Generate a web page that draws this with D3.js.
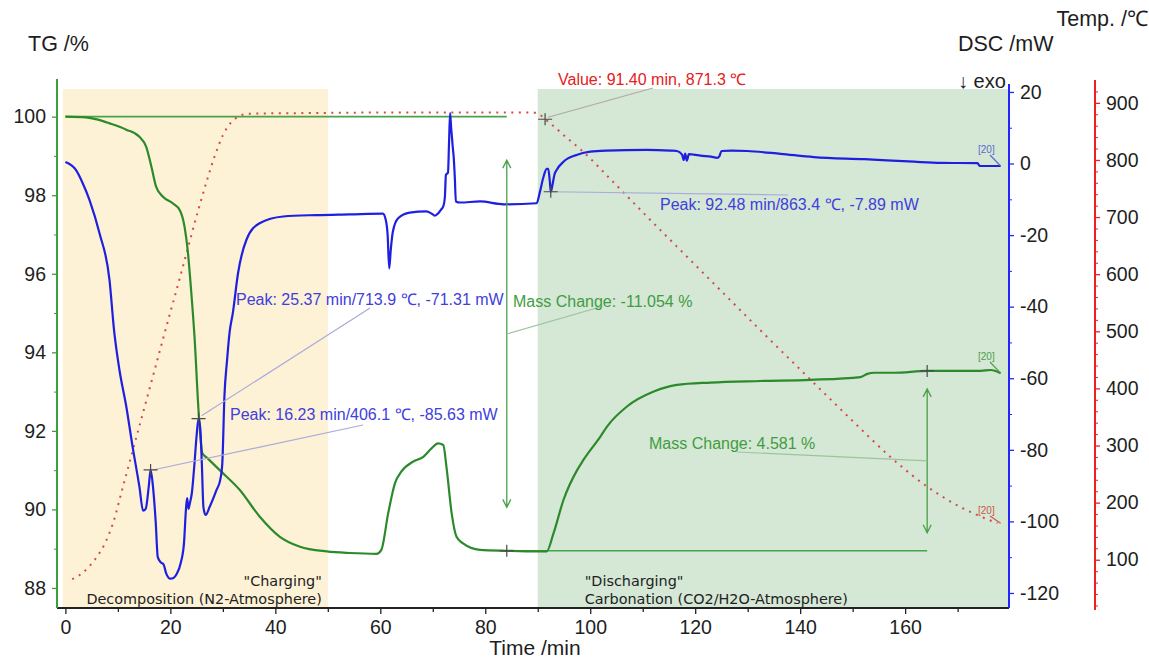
<!DOCTYPE html>
<html>
<head>
<meta charset="utf-8">
<script src="https://cdn.jsdelivr.net/npm/d3@7"></script>
<style>
  body { margin: 0; background: #fff; }
  svg { display: block; }
</style>
</head>
<body>
<svg id="chart" width="1149" height="661"></svg>
<script>
// ---- Thermogravimetric data (time in min) ----
const tgTime = [0, 3.9, 6, 8.4, 11.6, 14.1, 15.4, 16.4, 17.3, 18.6, 20.5, 21.8, 22.7, 23.3, 24.0, 24.6, 25.4, 26.1, 27.1, 29.4,
  33.2, 37.0, 40.8, 44.7, 49.8, 54.2, 59.3, 60.2, 61.5, 62.8, 64.0, 66.3, 68.2, 69.8, 71.0, 72.0, 72.6, 73.6, 74.5, 75.7,
  79.0, 84.1, 89.8, 91.7, 93.0, 94.9, 97.5, 98.7, 101.9, 103.2, 107.0, 112.1, 116.5, 122.9, 132.4, 142, 151.5, 152.8,
  154.1, 157.9, 164.2, 174.4, 176.3, 178.2];
const tgValue = [100.0, 99.98, 99.93, 99.83, 99.67, 99.49, 99.23, 98.72, 98.21, 97.96, 97.79, 97.62, 97.2, 96.6, 95.5, 94.4, 92.45, 91.43, 91.30, 91.0,
  90.5, 89.82, 89.31, 89.05, 88.93, 88.89, 88.87, 88.97, 89.9, 90.67, 90.96, 91.22, 91.34, 91.56, 91.68, 91.64, 91.09, 89.9, 89.31, 89.14,
  88.97, 88.946, 88.93, 88.93, 89.39, 90.24, 91.0, 91.26, 91.85, 92.11, 92.62, 93.0, 93.17, 93.23, 93.27, 93.30, 93.37, 93.45,
  93.48, 93.48, 93.527, 93.53, 93.55, 93.47];

// ---- DSC signal (mW) ----
const dscTime = [0, 2.0, 3.3, 4.6, 6.5, 8.4, 9.3, 10.3, 11.6, 12.8, 14.1, 14.8, 15.3, 15.9, 16.23, 16.7, 17.2, 17.6, 18.2, 18.7,
  19.2, 20.0, 20.6, 21.2, 22.0, 22.6, 23.0, 23.2, 23.45, 23.7, 24.1, 24.6, 25.0, 25.37, 25.7, 26.0, 26.3, 26.7, 27.5, 28.8,
  29.5, 29.9, 30.3, 30.8, 31.3, 31.9, 32.9, 34.5, 37.0, 41.5, 47.8, 54.2, 60.5, 61.0, 61.4, 61.7, 62.0, 62.4, 63.4, 65.6,
  68.8, 70.0, 70.4, 71.0, 71.5, 72.0, 72.3, 72.5, 72.9, 73.1, 73.3, 73.5, 73.8, 74.0, 74.2, 74.4, 75.2, 79.0, 83.5, 89.8,
  90.4, 91.1, 91.7, 92.0, 92.3, 92.48, 92.8, 93.2, 93.6, 94.9, 97.4, 100, 103, 110.8, 115.3, 116.5, 117.5, 117.8, 118.1, 118.4,
  118.8, 119.7, 121, 123, 124.2, 124.6, 125.0, 127, 129.9, 136.3, 142.6, 152.2, 161.7, 166.8, 173.8, 174.2, 178.2];
const dscValue = [0.4, -1.8, -5.5, -10.2, -19.5, -32.5, -47, -57.7, -67.9, -79.1, -90.3, -97, -96.5, -90, -85.63, -90.5, -100, -110, -111.5, -112,
  -114.5, -116, -115.8, -114.7, -111.5, -106, -96, -93.5, -96.5, -95, -92, -83.7, -76, -71.31, -74, -84, -96, -98.2, -95.9, -91.2,
  -88.4, -83.7, -65.1, -55, -47, -41.8, -30.6, -21.3, -16.7, -14.8, -14.4, -14.2, -14.0, -15.5, -20, -29.3, -24, -19, -15.3, -13.7,
  -13.4, -14.2, -14.6, -14, -13.0, -12.0, -9.5, -3.2, -2.5, 6, 14.1, 10, 4.7, 1.5, -4, -10.6, -10.9, -10.6, -11.4, -11.1,
  -8, -3.7, -1.5, -1.5, -5, -7.89, -6, -3, -1.8, 0.5, 2.4, 3.3, 3.6, 3.8, 3.6, 3.5, 2.5, 1.0, 2.8, 0.8,
  2.6, 2.5, 2.2, 1.9, 1.6, 2.0, 3.5, 3.6, 3.5, 2.7, 1.8, 1.2, 0.5, 0.2, 0.1, -0.7, -0.7];

// ---- Furnace temperature (°C) ----
const tempTime = [1.3, 3, 4.5, 6, 7.5, 9, 11, 13, 16.23, 19, 22, 25.37, 27, 28.5, 30, 31.5, 33, 35,
  45, 60, 80, 89, 90.3, 91.4, 92.48, 95, 98.7, 104, 110.8, 121, 132.4, 142, 150, 157.8, 164.2, 169, 173.8, 177.6];
const tempValue = [66, 75, 88, 105, 128, 162, 229, 297, 406.1, 500, 600, 713.9, 765, 808, 843, 865, 876, 881,
  882, 883, 883, 883, 880, 871.3, 863.4, 843, 814, 765, 701, 607, 502, 415, 343, 275, 228, 200, 178, 164];

// ---- Axis ticks ----
const timeTicks = [0, 20, 40, 60, 80, 100, 120, 140, 160];
const tgTicks = [88, 90, 92, 94, 96, 98, 100];
const dscTicks = [-120, -100, -80, -60, -40, -20, 0, 20];
const tempTicks = [100, 200, 300, 400, 500, 600, 700, 800, 900];

// ---- Atmosphere phases ----
const phaseStart = [-0.5, 90];
const phaseEnd = [50, 179.6];
const phaseTitle = ['"Charging"', '"Discharging"'];
const phaseName = ["Decomposition (N2-Atmosphere)", "Carbonation (CO2/H2O-Atmosphere)"];

// ---- Evaluated points ----
const peakTime = [16.23, 25.37, 92.48];
const peakDsc = [-85.63, -71.31, -7.89];
const peakTemp = [406.1, 713.9, 863.4];
const valueTime = 91.40, valueTemp = 871.3;
const massStepTime = [84.1, 164.2];
const massLevels = [100, 88.946, 93.527];

// ---------------------------------------------------------------
const svg = d3.select("#chart");
const FONT = "'Liberation Sans', Arial, Helvetica, sans-serif";
const plain = d => String(d);   // hyphen-minus, as on the instrument printout

const x = d3.scaleLinear().domain([-1.6, 179.6]).range([57, 1008]);
const yTG = d3.scaleLinear().domain([87.49, 100.73]).range([608, 88]);
const yDSC = d3.scaleLinear().domain([-124.2, 21.1]).range([608, 88]);
const yT = d3.scaleLinear().domain([12, 940]).range([610, 80]);

const C = {
  tg: "#2b8a2b", tgAxis: "#3aa03a",
  dsc: "#1f1fe0", dscAxis: "#2424ff",
  temp: "#d84848", tempAxis: "#ee2020",
  annBlue: "#4040dc", annRed: "#e52020", annGreen: "#3f9d3f",
  leadBlue: "#aaaadc", leadGrey: "#b0a8a8", leadGreen: "#9cc49c",
  cross: "#4a4a4a", text: "#1e1e1e"
};

// phase backgrounds
const phaseFill = ["#fdf1d6", "#d5e7d5"];
phaseStart.forEach((s, i) => {
  svg.append("rect")
    .attr("x", x(s)).attr("y", 89)
    .attr("width", x(phaseEnd[i]) - x(s)).attr("height", 608 - 89)
    .attr("fill", phaseFill[i]);
});
phaseStart.forEach((s, i) => {
  const g = svg.append("g").attr("font-family", "'DejaVu Sans', sans-serif")
    .attr("font-size", 14.4).attr("fill", "#222");
  if (i === 0) {
    g.append("text").attr("x", x(phaseEnd[i]) - 6).attr("y", 586).attr("text-anchor", "end").text(phaseTitle[i]);
    g.append("text").attr("x", x(phaseEnd[i]) - 6).attr("y", 604).attr("text-anchor", "end").text(phaseName[i]);
  } else {
    g.append("text").attr("x", x(s) + 47).attr("y", 586).text(phaseTitle[i]);
    g.append("text").attr("x", x(s) + 47).attr("y", 604).text(phaseName[i]);
  }
});

// mass-change reference levels
svg.append("line")
  .attr("x1", x(0)).attr("x2", x(massStepTime[0]))
  .attr("y1", yTG(massLevels[0])).attr("y2", yTG(massLevels[0]))
  .attr("stroke", "#49a449").attr("stroke-width", 1.6);
svg.append("line")
  .attr("x1", x(massStepTime[0])).attr("x2", x(massStepTime[1]))
  .attr("y1", yTG(massLevels[1])).attr("y2", yTG(massLevels[1]))
  .attr("stroke", "#49a449").attr("stroke-width", 1.4);

// curves
const tempLine = d3.line().x(d => x(d[0])).y(d => yT(d[1])).curve(d3.curveMonotoneX);
const tgLine = d3.line().x(d => x(d[0])).y(d => yTG(d[1])).curve(d3.curveMonotoneX);
const dscLine = d3.line().x(d => x(d[0])).y(d => yDSC(d[1])).curve(d3.curveMonotoneX);

svg.append("path").datum(d3.zip(tempTime, tempValue))
  .attr("d", tempLine).attr("fill", "none")
  .attr("stroke", C.temp).attr("stroke-width", 2).attr("stroke-dasharray", "2,5.5");
svg.append("path").datum(d3.zip(tgTime, tgValue))
  .attr("d", tgLine).attr("fill", "none")
  .attr("stroke", C.tg).attr("stroke-width", 2.2);
svg.append("path").datum(d3.zip(dscTime, dscValue))
  .attr("d", dscLine).attr("fill", "none")
  .attr("stroke", C.dsc).attr("stroke-width", 2.2).attr("stroke-linejoin", "round");

// helpers
function cross(cx, cy) {
  svg.append("path")
    .attr("d", `M${cx - 7},${cy}H${cx + 7}M${cx},${cy - 6}V${cy + 6}`)
    .attr("stroke", C.cross).attr("stroke-width", 1.2);
}
function leader(x1, y1, x2, y2, col) {
  svg.append("line").attr("x1", x1).attr("y1", y1).attr("x2", x2).attr("y2", y2)
    .attr("stroke", col).attr("stroke-width", 1.2);
}
function label(tx, ty, str, col, size) {
  svg.append("text").attr("x", tx).attr("y", ty)
    .attr("font-family", FONT).attr("font-size", size || 16)
    .attr("fill", col).text(str);
}
function vArrow(xp, yTop, yBot, col) {
  const s = 8, w = 4;
  svg.append("path")
    .attr("d", `M${xp},${yTop}V${yBot}M${xp - w},${yTop + s}L${xp},${yTop}L${xp + w},${yTop + s}` +
               `M${xp - w},${yBot - s}L${xp},${yBot}L${xp + w},${yBot - s}`)
    .attr("fill", "none").attr("stroke", col).attr("stroke-width", 1.3);
}

// peak annotations
const peakText = peakTime.map((t, i) =>
  `Peak: ${t.toFixed(2)} min/${peakTemp[i].toFixed(1)} \u2103, ${peakDsc[i].toFixed(2)} mW`);
const pPts = peakTime.map((t, i) => [x(t), yDSC(peakDsc[i])]);
leader(pPts[0][0] + 2, pPts[0][1], 363, 425, C.leadBlue);
leader(pPts[1][0] + 3, pPts[1][1] - 3, 370, 308, C.leadBlue);
leader(pPts[2][0], pPts[2][1], 788, 195, C.leadBlue);
label(230, 420, peakText[0], C.annBlue);
label(236, 305, peakText[1], C.annBlue);
label(660, 210, peakText[2], C.annBlue);
pPts.forEach(p => cross(p[0], p[1]));

// temperature read-out
const vx = x(valueTime), vy = yT(valueTemp);
leader(vx + 3, vy - 2, 653, 88, C.leadGrey);
label(558, 85, `Value: ${valueTime.toFixed(2)} min, ${valueTemp.toFixed(1)} \u2103`, C.annRed);
cross(vx, vy);

// mass-change steps
const loss = massLevels[1] - massLevels[0];
const gain = massLevels[2] - massLevels[1];
[[massStepTime[0], massLevels[0], massLevels[1]], [massStepTime[1], massLevels[2], massLevels[1]]].forEach(m => {
  const xp = x(m[0]);
  const span = m[1] - m[2];
  vArrow(xp, yTG(m[1] - span * 0.1), yTG(m[2] + span * 0.1), "#4aa04a");
});
leader(x(massStepTime[0]) + 1, yTG((massLevels[0] + massLevels[1]) / 2), 600, 307, C.leadGreen);
leader(x(massStepTime[1]), yTG((massLevels[2] + massLevels[1]) / 2), 737, 452, C.leadGreen);
label(513, 307, `Mass Change: ${loss.toFixed(3)} %`, C.annGreen);
label(649, 449, `Mass Change: ${gain.toFixed(3)} %`, C.annGreen);
cross(x(massStepTime[0]), yTG(massLevels[1]));
cross(x(massStepTime[1]), yTG(massLevels[2]));

// segment end tags
const tEnd = 178.2;
function endTag(vy, ty, col) {
  svg.append("text").attr("x", 978).attr("y", ty)
    .attr("font-family", FONT).attr("font-size", 10).attr("fill", col).text("[20]");
  leader(990, ty + 2, x(tEnd), vy, col);
}
endTag(yDSC(dscValue[dscValue.length - 1]), 153, "#5a6ad0");
endTag(yTG(tgValue[tgValue.length - 1]), 360, "#4aa04a");
endTag(yT(tempValue[tempValue.length - 1]), 514, "#cc5a4a");

// ---- axes ----
function styleAxis(g, col, labelCol) {
  g.select(".domain").remove();
  g.selectAll(".tick line").attr("stroke", col).attr("stroke-width", 1.3);
  g.selectAll(".tick text").attr("fill", labelCol).attr("font-family", FONT).attr("font-size", 19.5);
}

// time axis
const gx = svg.append("g").attr("transform", "translate(0,608)")
  .call(d3.axisBottom(x).tickValues(timeTicks).tickSize(6).tickPadding(6).tickFormat(plain));
styleAxis(gx, "#222", C.text);
svg.append("g").attr("transform", "translate(0,608)")
  .call(d3.axisBottom(x).tickValues(d3.range(10, 180, 20)).tickSize(4).tickFormat(""))
  .call(g => { g.select(".domain").remove(); g.selectAll("line").attr("stroke", "#222").attr("stroke-width", 1.3); });
svg.append("line").attr("x1", 57).attr("x2", 1009).attr("y1", 608).attr("y2", 608)
  .attr("stroke", "#222").attr("stroke-width", 2);
svg.append("text").attr("x", 535).attr("y", 655).attr("text-anchor", "middle")
  .attr("font-family", FONT).attr("font-size", 21).attr("fill", C.text).text("Time /min");

// TG axis
const gl = svg.append("g").attr("transform", "translate(57,0)")
  .call(d3.axisLeft(yTG).tickValues(tgTicks).tickSize(5).tickPadding(6).tickFormat(plain));
styleAxis(gl, C.tgAxis, C.text);
svg.append("g").attr("transform", "translate(57,0)")
  .call(d3.axisLeft(yTG).tickValues([89, 91, 93, 95, 97, 99]).tickSize(3).tickFormat(""))
  .call(g => { g.select(".domain").remove(); g.selectAll("line").attr("stroke", C.tgAxis); });
svg.append("line").attr("x1", 57).attr("x2", 57).attr("y1", 79).attr("y2", 608)
  .attr("stroke", C.tgAxis).attr("stroke-width", 2);
svg.append("text").attr("x", 28).attr("y", 51)
  .attr("font-family", FONT).attr("font-size", 21.5).attr("fill", C.text).text("TG /%");

// DSC axis
svg.append("text").attr("x", 958).attr("y", 88)
  .attr("font-family", FONT).attr("font-size", 20).attr("fill", C.text).text("\u2193 exo");
const gr = svg.append("g").attr("transform", "translate(1009,0)")
  .call(d3.axisRight(yDSC).tickValues(dscTicks).tickSize(5).tickPadding(6).tickFormat(plain));
styleAxis(gr, C.dscAxis, C.text);
svg.append("g").attr("transform", "translate(1009,0)")
  .call(d3.axisRight(yDSC).tickValues(d3.range(-110, 20, 20)).tickSize(3).tickFormat(""))
  .call(g => { g.select(".domain").remove(); g.selectAll("line").attr("stroke", C.dscAxis); });
svg.append("line").attr("x1", 1009).attr("x2", 1009).attr("y1", 84).attr("y2", 608)
  .attr("stroke", C.dscAxis).attr("stroke-width", 2);
svg.append("text").attr("x", 958).attr("y", 51)
  .attr("font-family", FONT).attr("font-size", 21.5).attr("fill", C.text).text("DSC /mW");

// temperature axis
const gt = svg.append("g").attr("transform", "translate(1095,0)")
  .call(d3.axisRight(yT).tickValues(tempTicks).tickSize(5).tickPadding(6).tickFormat(plain));
styleAxis(gt, C.tempAxis, C.text);
svg.append("g").attr("transform", "translate(1095,0)")
  .call(d3.axisRight(yT).tickValues(d3.range(20, 940, 20).filter(v => v % 100 !== 0)).tickSize(3).tickFormat(""))
  .call(g => { g.select(".domain").remove(); g.selectAll("line").attr("stroke", C.tempAxis); });
svg.append("line").attr("x1", 1095).attr("x2", 1095).attr("y1", 80).attr("y2", 610)
  .attr("stroke", C.tempAxis).attr("stroke-width", 2);
svg.append("text").attr("x", 1148).attr("y", 26).attr("text-anchor", "end")
  .attr("font-family", FONT).attr("font-size", 21.5).attr("fill", C.text).text("Temp. /\u2103");
</script>
</body>
</html>
